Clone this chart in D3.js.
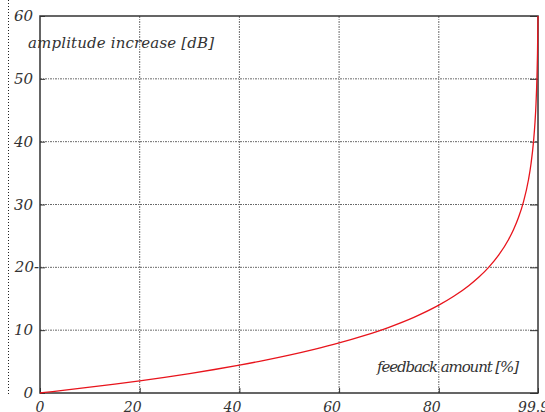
<!DOCTYPE html>
<html>
<head>
<meta charset="utf-8">
<script src="https://cdn.jsdelivr.net/npm/d3@7"></script>
<style>
  body { margin: 0; background: #fff; overflow: hidden; }
  text { font-family: "DejaVu Serif", serif; font-style: italic; fill: #333; }
</style>
</head>
<body>
<svg id="chart" width="545" height="412"></svg>
<script>
// feedback amount [%] and amplitude increase [dB]
var feedback = [0, 1, 5, 10, 15, 20, 25, 30, 35, 40, 45, 50, 55, 60, 65, 70, 75, 80, 83, 86, 88, 90, 92, 94, 95, 96, 97, 98, 98.5, 99, 99.3, 99.5, 99.7, 99.8, 99.9];
var increase = [0, 0.09, 0.45, 0.92, 1.41, 1.94, 2.5, 3.1, 3.74, 4.44, 5.19, 6.02, 6.94, 7.96, 9.12, 10.46, 12.04, 13.98, 15.39, 17.08, 18.42, 20, 21.94, 24.44, 26.02, 27.96, 30.46, 33.98, 36.48, 40, 43.1, 46, 50.5, 54, 60];
var xTicks = [0, 20, 40, 60, 80, 99.9];
var xTickLabels = ["0", "20", "40", "60", "80", "99.9"];
var yTicks = [0, 10, 20, 30, 40, 50, 60];
var yTickLabels = ["0", "10", "20-", "30", "40", "50", "60"];

var svg = d3.select("#chart"),
  pLeft = 40, pTop = 16, pRight = 538, pBottom = 393;

var xScale = d3.scaleLinear().domain([0, 99.9]).range([pLeft, pRight]),
  yScale = d3.scaleLinear().domain([0, 60]).range([pBottom, pTop]);

// stray dotted line at the far left
svg.append("line")
  .attr("x1", 8.5).attr("x2", 8.5).attr("y1", 0).attr("y2", 396)
  .attr("stroke", "#222").attr("stroke-dasharray", "1,2");

var grid = svg.append("g");
grid.selectAll(".gx")
  .data(xTicks.slice(1, -1))
  .enter().append("line")
  .attr("x1", function(d) { return xScale(d); })
  .attr("x2", function(d) { return xScale(d); })
  .attr("y1", pTop).attr("y2", pBottom)
  .attr("stroke", "#444").attr("stroke-width", 0.8)
  .attr("stroke-dasharray", "2,1,1,1");
grid.selectAll(".gy")
  .data(yTicks.slice(1, -1))
  .enter().append("line")
  .attr("x1", pLeft).attr("x2", pRight)
  .attr("y1", function(d) { return yScale(d); })
  .attr("y2", function(d) { return yScale(d); })
  .attr("stroke", "#444").attr("stroke-width", 0.8)
  .attr("stroke-dasharray", "2,1,1,1");

// inward ticks
svg.append("g")
  .attr("transform", "translate(0," + pBottom + ")")
  .call(d3.axisBottom(xScale).tickValues(xTicks).tickSizeInner(-5).tickSizeOuter(0).tickFormat(""))
  .call(function(g) { g.select(".domain").remove(); g.selectAll("line").attr("stroke", "#333"); });
svg.append("g")
  .attr("transform", "translate(" + pLeft + ",0)")
  .call(d3.axisLeft(yScale).tickValues(yTicks).tickSizeInner(-5).tickSizeOuter(0).tickFormat(""))
  .call(function(g) { g.select(".domain").remove(); g.selectAll("line").attr("stroke", "#333"); });
svg.append("g")
  .attr("transform", "translate(" + pRight + ",0)")
  .call(d3.axisRight(yScale).tickValues(yTicks).tickSizeInner(-8).tickSizeOuter(0).tickFormat(""))
  .call(function(g) { g.select(".domain").remove(); g.selectAll("line").attr("stroke", "#333"); });

// frame
svg.append("rect")
  .attr("x", pLeft).attr("y", pTop)
  .attr("width", pRight - pLeft).attr("height", pBottom - pTop)
  .attr("fill", "none").attr("stroke", "#333").attr("stroke-width", 1.5);

// tick labels
svg.selectAll(".xl")
  .data(xTicks)
  .enter().append("text")
  .attr("x", function(d) { return d == 0 ? xScale(d) : d > 99 ? 518 : xScale(d) - 7; })
  .attr("y", 412)
  .attr("text-anchor", function(d) { return d > 99 ? "start" : "middle"; })
  .style("font-size", "14px")
  .text(function(d, i) { return xTickLabels[i]; });
svg.selectAll(".yl")
  .data(yTicks)
  .enter().append("text")
  .attr("x", function(d) { return d == 20 ? 39 : 33; })
  .attr("y", function(d) { return yScale(d) + 5; })
  .attr("text-anchor", "end")
  .style("font-size", "15px")
  .text(function(d, i) { return yTickLabels[i]; });

// curve
var line = d3.line()
  .x(function(d, i) { return xScale(feedback[i]); })
  .y(function(d) { return yScale(d); })
  .curve(d3.curveMonotoneX);
svg.append("path")
  .datum(increase)
  .attr("d", line)
  .attr("fill", "none")
  .attr("stroke", "#e8141c")
  .attr("stroke-width", 1.3);

svg.append("text")
  .attr("x", 28).attr("y", 48)
  .attr("textLength", 186)
  .style("font-size", "15px")
  .text("amplitude increase [dB]");
svg.append("text")
  .attr("x", 377).attr("y", 372)
  .attr("textLength", 142)
  .style("font-size", "15px")
  .text("feedback amount [%]");
</script>
</body>
</html>
